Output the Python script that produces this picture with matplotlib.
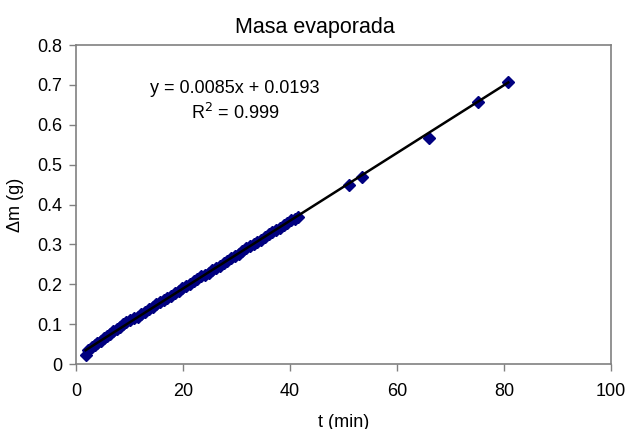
import numpy as np
import matplotlib
matplotlib.use("Agg")
import matplotlib.pyplot as plt

plt.rcParams['font.family'] = ['Liberation Sans', 'DejaVu Sans']

# data
t_min = [1.8, 2.3, 2.9, 3.5, 4.0, 4.6, 5.2, 5.8, 6.4, 7.0, 7.6, 8.2, 8.8, 9.4,
         10.1, 10.8, 11.5, 12.2, 12.9, 13.6, 14.3, 15.0, 15.7, 16.4, 17.1, 17.8,
         18.5, 19.2, 19.9, 20.6, 21.3, 22.0, 22.7, 23.4, 24.1, 24.8, 25.5, 26.2,
         26.9, 27.6, 28.3, 29.0, 29.7, 30.4, 31.1, 31.8, 32.5, 33.2, 33.9, 34.6,
         35.3, 36.0, 36.7, 37.4, 38.1, 38.8, 39.5, 40.2, 40.9, 41.5,
         51.0, 53.5, 66.0, 75.2, 80.8]
dm_g = [0.022, 0.035, 0.042, 0.048, 0.053, 0.057, 0.064, 0.070, 0.074, 0.082,
        0.088, 0.093, 0.100, 0.106, 0.110, 0.115, 0.119, 0.125, 0.131, 0.137,
        0.142, 0.150, 0.156, 0.160, 0.165, 0.170, 0.177, 0.183, 0.190, 0.196,
        0.201, 0.207, 0.213, 0.220, 0.224, 0.229, 0.236, 0.242, 0.247, 0.253,
        0.259, 0.266, 0.271, 0.277, 0.284, 0.290, 0.296, 0.300, 0.306, 0.312,
        0.319, 0.325, 0.330, 0.336, 0.342, 0.348, 0.354, 0.360, 0.364, 0.368,
        0.450, 0.470, 0.566, 0.658, 0.708]
slope = 0.0085
intercept = 0.0193
r2 = 0.999
x_ticks = [0, 20, 40, 60, 80, 100]
y_ticks = [0, 0.1, 0.2, 0.3, 0.4, 0.5, 0.6, 0.7, 0.8]

fig = plt.figure(figsize=(6.27, 4.29), dpi=100)
ax = fig.add_axes([0.1212, 0.1515, 0.8533, 0.7436])

ax.plot(t_min, dm_g, linestyle='none', marker='D', markersize=6.5,
        color='#000080', zorder=2)
tx = np.array([min(t_min), max(t_min)])
ax.plot(tx, slope * tx + intercept, color='black', linewidth=1.8, zorder=3)

ax.set_xlim(0, 100)
ax.set_ylim(0, 0.8)
ax.set_xticks(x_ticks)
ax.set_yticks(y_ticks)
ax.set_xticklabels([f"{v:g}" for v in x_ticks])
ax.set_yticklabels([f"{v:g}" for v in y_ticks])
ax.tick_params(axis='both', direction='out', length=5, width=1,
               color='#808080', labelsize=13, pad=5)
ax.tick_params(axis='x', pad=9)

for s in ax.spines.values():
    s.set_color('#808080')
    s.set_linewidth(1.2)

fig.text(0.502, 0.937, 'Masa evaporada', fontsize=15.5, ha='center', va='center')
ax.set_xlabel('t (min)', fontsize=13, labelpad=10)
ax.set_ylabel('Δm (g)', fontsize=13, labelpad=9)

ax.text(29.7, 0.692, f"y = {slope}x + {intercept}", fontsize=13,
        ha='center', va='center')
ax.text(29.7, 0.629, f"R$^2$ = {r2}", fontsize=13, ha='center', va='center')

fig.savefig('out.png', dpi=100)
